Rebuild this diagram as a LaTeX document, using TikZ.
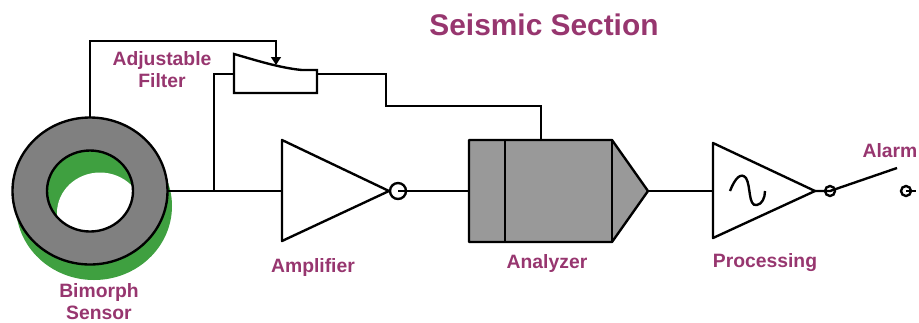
\documentclass[tikz,border=0pt]{standalone}
\usepackage{fontspec}
\setmainfont{Liberation Sans}
\usetikzlibrary{arrows.meta}
\definecolor{labelred}{RGB}{151,54,111}
\definecolor{ringgreen}{RGB}{63,160,64}
\definecolor{ringgray}{RGB}{128,128,128}
\definecolor{boxgray}{RGB}{153,153,153}
\tikzset{
  wire/.style={line width=1.35pt,line join=miter},
  tag/.style={text=labelred,font=\bfseries\fontsize{11}{12.5}\selectfont,align=center,inner sep=0pt}
}

\begin{document}
\begin{tikzpicture}[x=0.02cm,y=-0.02cm,wire]
  \useasboundingbox (0,0) rectangle (919,322);

  % the points on the main signal line
  \coordinate (S) at (168,191);
  \coordinate (J) at (214,191);
  \coordinate (AmpIn) at (282,191);
  \coordinate (AmpOut) at (389,191);
  \coordinate (NotOut) at (398,191);
  \coordinate (AnaIn) at (469,191);
  \coordinate (AnaTip) at (648,191);
  \coordinate (ProcIn) at (713,191);
  \coordinate (ProcOut) at (815,191);

  % draw bimorph sensor, green back first
  \fill [ringgreen] (94,206) ellipse (78 and 74);
  \fill [white] (100,213) ellipse (43 and 40.5);
  \draw [fill=ringgray,even odd rule]
    (90,191) ellipse (77.5 and 73.5)
    (90,191) ellipse (43 and 40.5);
  \coordinate (SensorTop) at (90,117);

  % draw adjustable filter
  \coordinate (FiltIn) at (234,74);
  \coordinate (FiltOut) at (317,74);
  \coordinate (FiltArm) at (276,65);
  \draw (234,54) .. controls (255,60) and (280,68) .. (302,70)
    -- (317,70) -- (317,93) -- (234,93) -- cycle;

  % draw amplifier
  \draw [line join=round] (282,140) -- (AmpOut) -- (282,241) -- cycle;
  \draw (NotOut) circle (8);

  % draw analyzer
  \coordinate (AnaTop) at (541,140);
  \draw [fill=boxgray,line join=round] (469,140) -- (612,140) -- (AnaTip)
    -- (612,242) -- (469,242) -- cycle;
  \draw (612,140) -- (612,242);
  \draw (505,140) -- (505,242);

  % draw processing block with sine
  \draw [line join=round] (713,143) -- (ProcOut) -- (713,238) -- cycle;
  \draw (730,191) .. controls (735,178) and (741,172) .. (746,178)
    .. controls (751,186) and (748,207) .. (757,205)
    .. controls (762,204) and (765,198) .. (765,191);

  % draw alarm contacts
  \coordinate (C1) at (830,191);
  \coordinate (C2) at (906,191);
  \coordinate (ArmEnd) at (897,168);
  \coordinate (AlarmEnd) at (916,191);
  \draw (C1) circle (5);
  \draw (C2) circle (5);

  % connect the blocks
  \draw (S) -- (J) -- (AmpIn);
  \draw (NotOut) -- (AnaIn);
  \draw (AnaTip) -- (ProcIn);
  \draw (ProcOut) -- (C1) -- (ArmEnd);
  \draw (C2) -- (AlarmEnd);
  \draw (J) |- (FiltIn);
  \draw (FiltOut) -- (386,74) -- (386,106) -| (AnaTop);
  \draw [-{Triangle[length=4.5pt,width=5.5pt]}] (SensorTop) |- (FiltArm |- 0,41) -- (FiltArm);

  % labels
  \node (title) at (544,25) [tag,font=\bfseries\fontsize{17}{20}\selectfont] {Seismic Section};
  \node (filterlabel) at (162,70) [tag] {Adjustable\\Filter};
  \node (sensorlabel) at (99,302) [tag] {Bimorph\\Sensor};
  \node (amplabel) at (313,267) [tag] {Amplifier};
  \node (analabel) at (547,263) [tag] {Analyzer};
  \node (proclabel) at (765,263) [tag] {Processing};
  \node (alarmlabel) at (890,151) [tag] {Alarm};
\end{tikzpicture}
\end{document}
